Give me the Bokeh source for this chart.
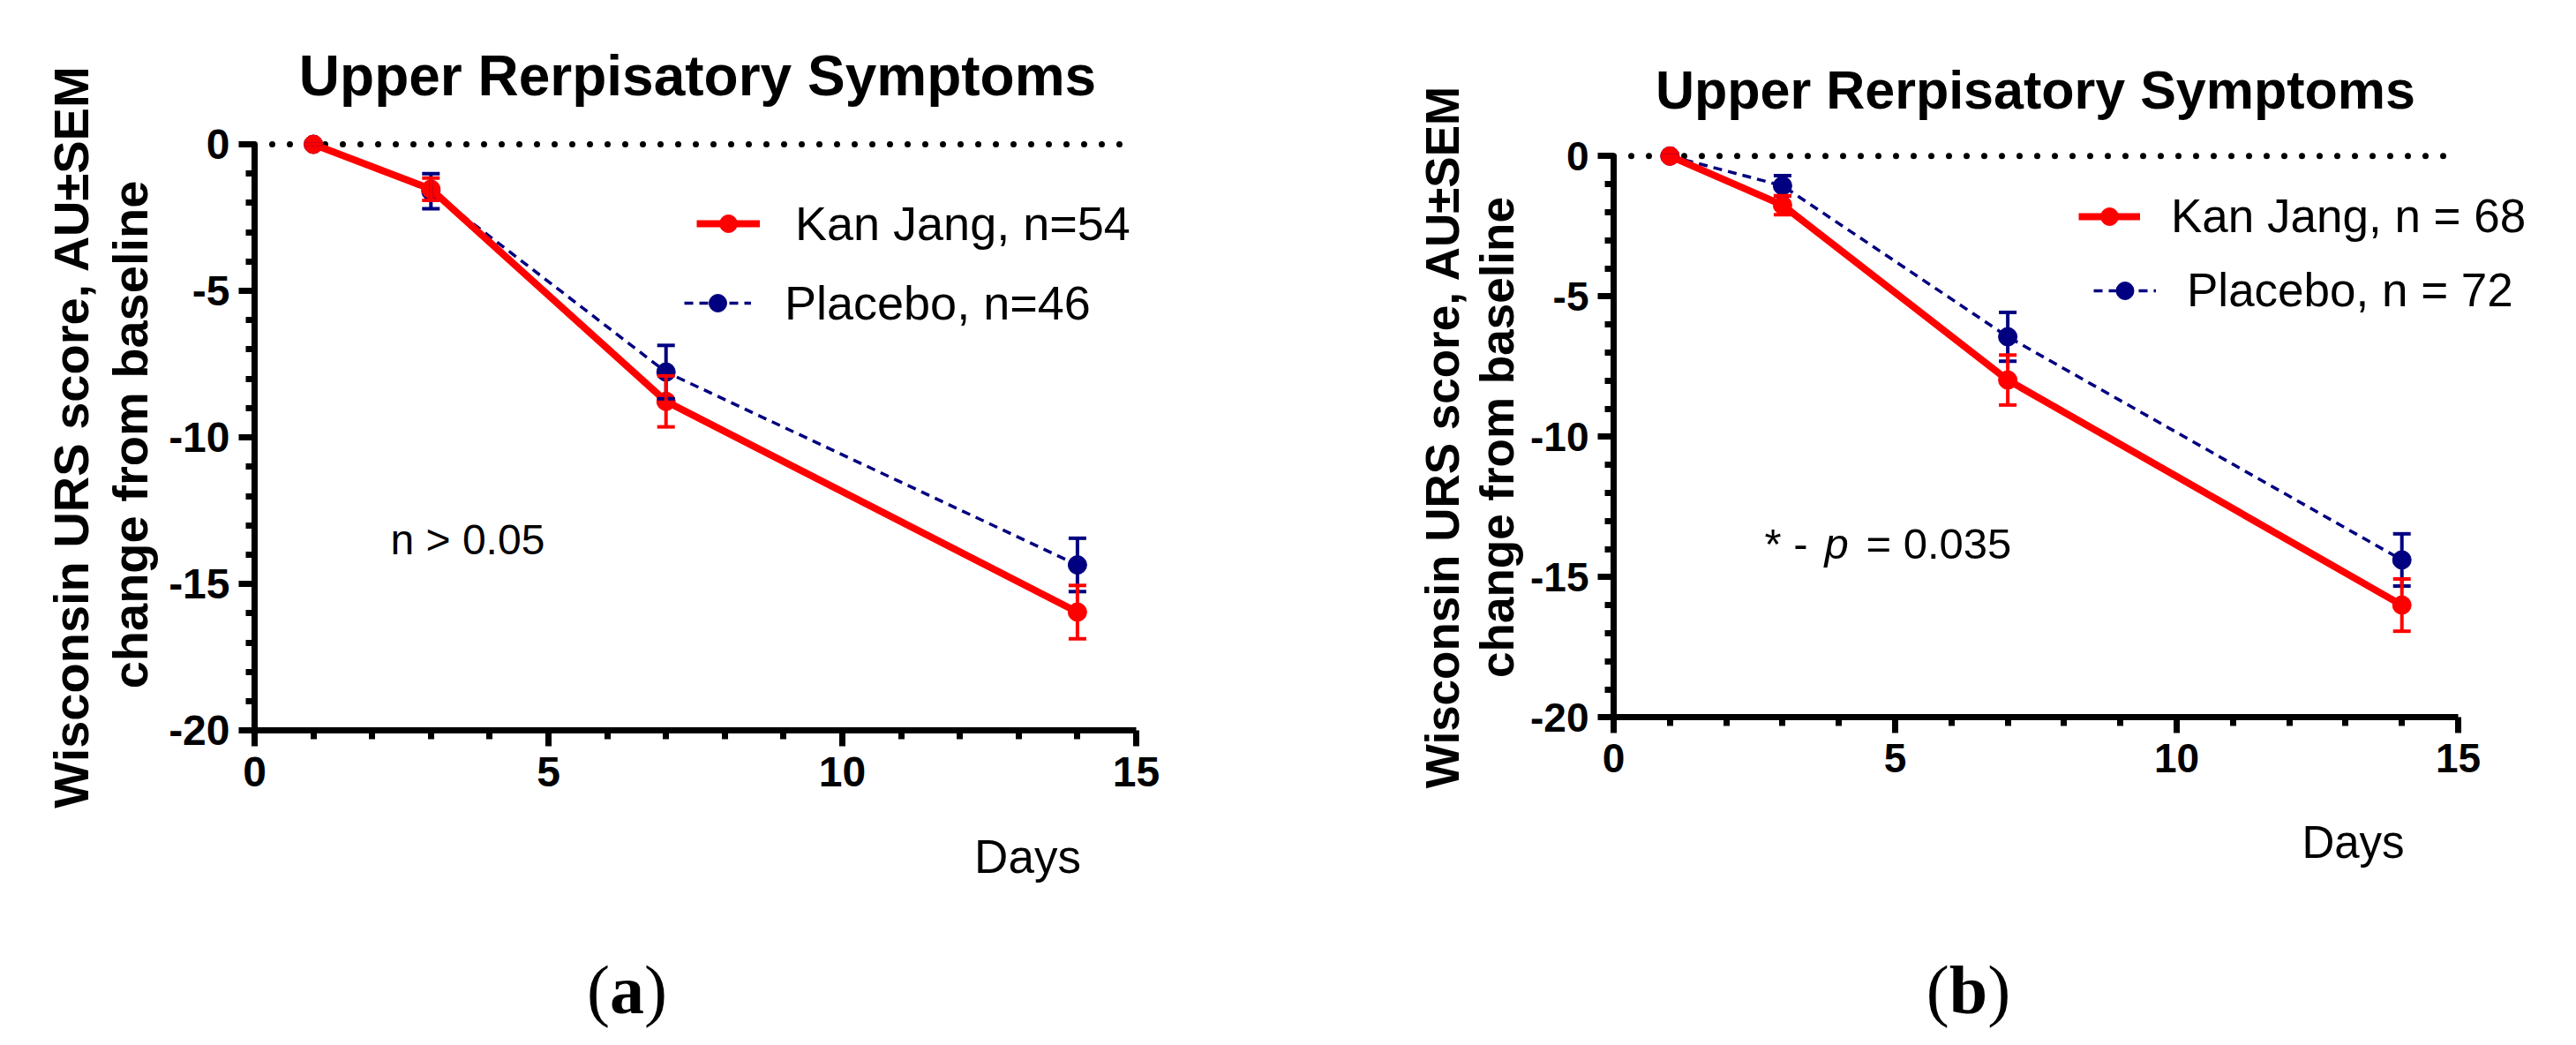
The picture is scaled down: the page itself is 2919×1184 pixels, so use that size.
import math
from bokeh.plotting import figure
from bokeh.layouts import row
from bokeh.models import (ColumnDataSource, Whisker, TeeHead, Label, Legend, LegendItem,
                          FixedTicker, Range1d)
from bokeh.embed import file_html
from bokeh.resources import INLINE

days = [1, 3, 7, 14]

# panel (a)
kj_a = [0, -1.53, -8.77, -15.96]
kj_a_sem = [0, 0.38, 0.87, 0.91]
pl_a = [0, -1.6, -7.77, -14.35]
pl_a_sem = [0, 0.6, 0.91, 0.91]

# panel (b)
kj_b = [0, -1.75, -7.98, -16.0]
kj_b_sem = [0, 0.34, 0.89, 0.93]
pl_b = [0, -1.06, -6.44, -14.39]
pl_b_sem = [0, 0.36, 0.87, 0.93]

title = "Upper Rerpisatory Symptoms"
ylab1 = "Wisconsin URS score, AU\u00b1SEM"
ylab2 = "change from baseline"
xlab = "Days"
x_ticks = [0, 5, 10, 15]
y_ticks = [-20, -15, -10, -5, 0]

SANS = "Liberation Sans"
SERIF = "Liberation Serif"
RED = "#ff0000"
NAVY = "#000080"
H = 1168  # canvas height of each panel


class Panel:
    # the whole canvas is the frame, so nothing gets clipped; positions below are page pixels
    def __init__(self, ox, oy, kx, ky, cx, w):
        self.ox, self.oy, self.kx, self.ky, self.cx, self.w = ox, oy, kx, ky, cx, w
        self.p = figure(frame_width=w, frame_height=H, min_border=0,
                        x_range=Range1d(self.dx(cx), self.dx(cx + w)),
                        y_range=Range1d(self.dy(8 + H), self.dy(8)),
                        output_backend="svg", toolbar_location=None)

    def dx(self, px):
        return (px - self.ox) / self.kx

    def dy(self, py):
        return (self.oy - py) / self.ky

    def label(self, px, py, text, size, style="normal", font=SANS, align="left", angle=0):
        self.p.add_layout(Label(x=self.dx(px), y=self.dy(py), text=text, text_font=font,
                                text_font_size="%dpx" % size, text_font_style=style,
                                text_align=align, text_baseline="alphabetic",
                                angle=angle, text_color="black"))


def series(pn, y, sem, color, width, dash, leg):
    p = pn.p
    src = ColumnDataSource(dict(x=days, y=y,
                                upper=[v + s for v, s in zip(y, sem)],
                                lower=[v - s for v, s in zip(y, sem)]))
    ln = p.line("x", "y", source=src, line_color=color, line_width=width, line_dash=dash)
    wh = Whisker(source=src, base="x", upper="upper", lower="lower", line_color=color, line_width=4,
                 upper_head=TeeHead(size=20, line_color=color, line_width=4),
                 lower_head=TeeHead(size=20, line_color=color, line_width=4), level="glyph")
    p.add_layout(wh)
    pts = p.scatter("x", "y", source=src, size=21, fill_color=color, line_color=color)
    (gx, gy), gw, standoff, fsize, text = leg
    loc = (gx - pn.cx, H - (gy + 25 - 8))
    p.add_layout(Legend(items=[LegendItem(label=text, renderers=[ln, pts])], location=loc,
                        glyph_width=gw, glyph_height=50, label_height=50, label_standoff=standoff,
                        label_text_font=SANS, label_text_font_size="%dpx" % fsize,
                        label_text_color="black", padding=0, spacing=0, margin=0,
                        border_line_alpha=0, background_fill_alpha=0))


def panel(g):
    pn = Panel(*g["geom"])
    p = pn.p
    p.xgrid.visible = False
    p.ygrid.visible = False
    p.outline_line_color = None

    p.xaxis.ticker = FixedTicker(ticks=x_ticks, minor_ticks=list(range(1, 15)))
    p.yaxis.ticker = FixedTicker(ticks=y_ticks, minor_ticks=list(range(-19, 0)))
    p.xaxis.major_label_overrides = {v: str(v) for v in x_ticks}
    p.yaxis.major_label_overrides = {v: str(v) for v in y_ticks}
    p.xaxis.bounds = (x_ticks[0], x_ticks[-1])
    p.yaxis.bounds = (y_ticks[0], y_ticks[-1])
    p.xaxis.fixed_location = y_ticks[0]
    p.yaxis.fixed_location = x_ticks[0]
    for ax in (p.xaxis, p.yaxis):
        ax.axis_line_width = 7
        ax.axis_line_color = "black"
        ax.major_tick_line_width = 7
        ax.minor_tick_line_width = 7
        ax.major_tick_out = 18
        ax.major_tick_in = 0
        ax.minor_tick_out = 10
        ax.minor_tick_in = 0
        ax.major_label_text_font = SANS
        ax.major_label_text_font_style = "bold"
        ax.major_label_text_font_size = "%dpx" % g["tick"]
        ax.major_label_text_color = "black"
    p.xaxis.major_label_standoff = 12
    p.yaxis.major_label_standoff = 10

    # dotted zero line across the x axis extent
    p.line([x_ticks[0], x_ticks[-1]], [0, 0], line_color="black", line_width=7,
           line_dash="0 20", line_cap="round", level="underlay")

    series(pn, g["pl"], g["pl_sem"], NAVY, 3.5, "10 7", g["pl_leg"])
    series(pn, g["kj"], g["kj_sem"], RED, 8, "solid", g["kj_leg"])

    tx, ty, ts = g["title"]
    pn.label(tx, ty, title, ts, style="bold", align="center")
    (x1, y1), (x2, y2), ys = g["ylab"]
    pn.label(x1, y1, ylab1, ys, style="bold", align="center", angle=math.pi / 2)
    pn.label(x2, y2, ylab2, ys, style="bold", align="center", angle=math.pi / 2)
    dx, dy, ds = g["days"]
    pn.label(dx, dy, xlab, ds, align="center")
    lx, ly, half, letter = g["letter"]
    pn.label(lx - half, ly, "(", 78, font=SERIF, align="right")
    pn.label(lx, ly, letter, 78, style="bold", font=SERIF, align="center")
    pn.label(lx + half, ly, ")", 78, font=SERIF, align="left")
    for nx, ny, ntext, nstyle, nsize in g["note"]:
        pn.label(nx, ny, ntext, nsize, style=nstyle)
    return p


pa = panel(dict(geom=(296, 171, 66.6, 33.21, 8, 1452), tick=48,
                kj=kj_a, kj_sem=kj_a_sem, pl=pl_a, pl_sem=pl_a_sem,
                kj_leg=((797, 266.6), 72, 40, 54, "Kan Jang, n=54"),
                pl_leg=((783, 356.7), 76, 38, 54, "Placebo, n=46"),
                title=(798, 93, 64), ylab=((88, 502), (155, 500), 56),
                days=(1172, 978, 53), letter=(718, 1129, 19.5, "a"),
                note=[(450, 619, "n > 0.05", "normal", 48)]))

pb = panel(dict(geom=(1836, 184.3, 63.8, 31.8, 1460, 1451), tick=46,
                kj=kj_b, kj_sem=kj_b_sem, pl=pl_b, pl_sem=pl_b_sem,
                kj_leg=((2363, 258), 70, 35, 53, "Kan Jang, n = 68"),
                pl_leg=((2380, 342), 71, 35, 53, "Placebo, n = 72"),
                title=(2314, 109, 61), ylab=((1642, 502), (1704, 503), 53),
                days=(2674, 962, 51), letter=(2238, 1129, 21.7, "b"),
                note=[(2007, 623, "* -", "normal", 49),
                      (2075, 623, "p", "italic", 49),
                      (2122, 623, "= 0.035", "normal", 49)]))

layout = row(pa, pb)
open("out.html", "w").write(file_html(layout, INLINE))
